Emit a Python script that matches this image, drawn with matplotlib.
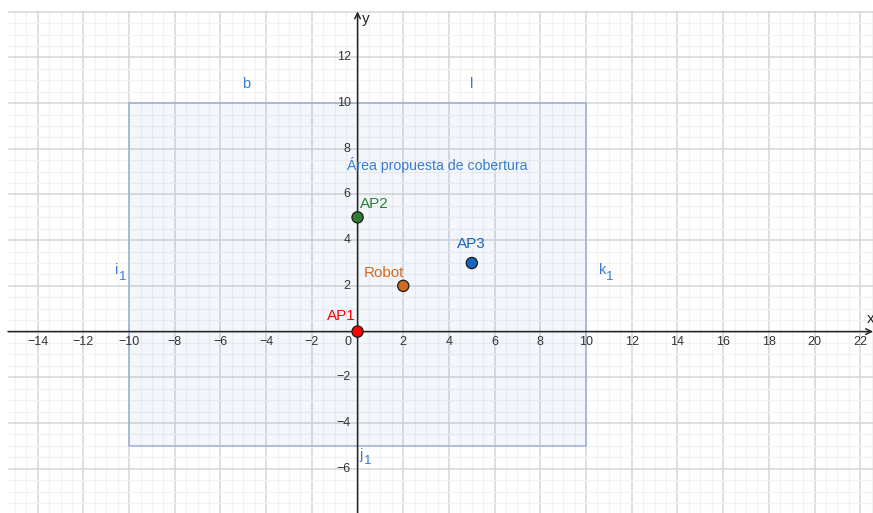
import numpy as np
import matplotlib.pyplot as plt
from matplotlib.patches import Rectangle
from matplotlib.ticker import MultipleLocator

plt.rcParams['font.family'] = ['Liberation Sans', 'DejaVu Sans']

# ---- datos ----
point_names = ['AP1', 'AP2', 'AP3', 'Robot']
point_x = [0, 0, 5, 2]
point_y = [0, 5, 3, 2]
point_colors = ['#ff0000', '#2e7d32', '#1565c0', '#d2691e']
label_offsets = [(-12, 11), (12, 9.5), (0, 13.5), (-14, 9.5)]  # puntos tipográficos

area_x0, area_y0 = -10, -5
area_x1, area_y1 = 10, 10
area_label = 'Área propuesta de cobertura'

seg_names = ['b', 'l', 'i', 'k', 'j']
seg_subs = ['', '', '1', '1', '1']
seg_x = [-4.88, 5.0, -10.55, 10.75, 0.15]
seg_y = [10.83, 10.83, 2.68, 2.68, -5.4]

x_ticks = [v for v in range(-14, 23, 2) if v != 0]
y_ticks = [v for v in range(-6, 13, 2) if v != 0]

XMIN, XMAX = -15.3, 22.56
YMIN, YMAX = -7.94, 14.03
LBLUE = '#3a7bd0'

fig = plt.figure(figsize=(8.73, 5.13), dpi=100)
ax = fig.add_axes([8 / 873, 0, 865 / 873, 502 / 513])
ax.set_xlim(XMIN, XMAX)
ax.set_ylim(YMIN, YMAX)
for s in ax.spines.values():
    s.set_visible(False)

# rejilla
ax.xaxis.set_major_locator(MultipleLocator(2))
ax.yaxis.set_major_locator(MultipleLocator(2))
ax.xaxis.set_minor_locator(MultipleLocator(0.5))
ax.yaxis.set_minor_locator(MultipleLocator(0.5))
ax.grid(which='major', color='#d6d6d6', linewidth=1.1, zorder=0)
ax.grid(which='minor', color='#f2f2f2', linewidth=0.9, zorder=0)
ax.tick_params(which='both', length=0, labelbottom=False, labelleft=False)
ax.set_axisbelow(True)

# área propuesta
ax.add_patch(Rectangle((area_x0, area_y0), area_x1 - area_x0, area_y1 - area_y0,
                       facecolor=(0.08, 0.4, 0.75, 0.05), edgecolor='#9bb1d2',
                       linewidth=1.1, zorder=1))

# ejes
ax.annotate('', xy=(XMAX, 0), xytext=(XMIN, 0),
            arrowprops=dict(arrowstyle='->', color='#252525', lw=1.1,
                            shrinkA=0, shrinkB=0), zorder=2)
ax.annotate('', xy=(0, YMAX - 0.02), xytext=(0, YMIN),
            arrowprops=dict(arrowstyle='->', color='#252525', lw=1.1,
                            shrinkA=0, shrinkB=0), zorder=2)
ax.text(22.45, 0.25, 'x', fontsize=11, color='#252525', ha='center', va='bottom')
ax.text(0.35, 13.7, 'y', fontsize=11, color='#252525', ha='center', va='center')

# etiquetas de ejes
for v in x_ticks:
    ax.annotate(str(v).replace('-', '\u2212'), xy=(v, 0), xytext=(0, -7.5),
                textcoords='offset points', ha='center', va='center',
                fontsize=9, color='#333333')
ax.annotate('0', xy=(0, 0), xytext=(-7, -7.5), textcoords='offset points',
            ha='center', va='center', fontsize=9, color='#333333')
for v in y_ticks:
    ax.annotate(str(v).replace('-', '\u2212'), xy=(0, v), xytext=(-5, 0),
                textcoords='offset points', ha='right', va='center',
                fontsize=9, color='#333333')

# etiquetas de segmentos y área
for name, sub, sx, sy in zip(seg_names, seg_subs, seg_x, seg_y):
    ax.text(sx, sy, name, fontsize=10.5, color=LBLUE, ha='center', va='center')
    if sub:
        ax.annotate(sub, xy=(sx, sy), xytext=(4.5, -4.5), textcoords='offset points',
                    fontsize=9.5, color=LBLUE, ha='center', va='center')
ax.text(-0.45, 7.29, area_label, fontsize=10.2, color=LBLUE, ha='left', va='center')

# puntos
ax.scatter(point_x, point_y, s=65, c=point_colors, edgecolors='#1a1a1a',
           linewidths=0.9, zorder=5)
for name, px, py, col, off in zip(point_names, point_x, point_y, point_colors, label_offsets):
    ax.annotate(name, xy=(px, py), xytext=off, textcoords='offset points',
                ha='center', va='center', fontsize=11, color=col, zorder=6)

fig.savefig('out.png', dpi=100, facecolor='white')
